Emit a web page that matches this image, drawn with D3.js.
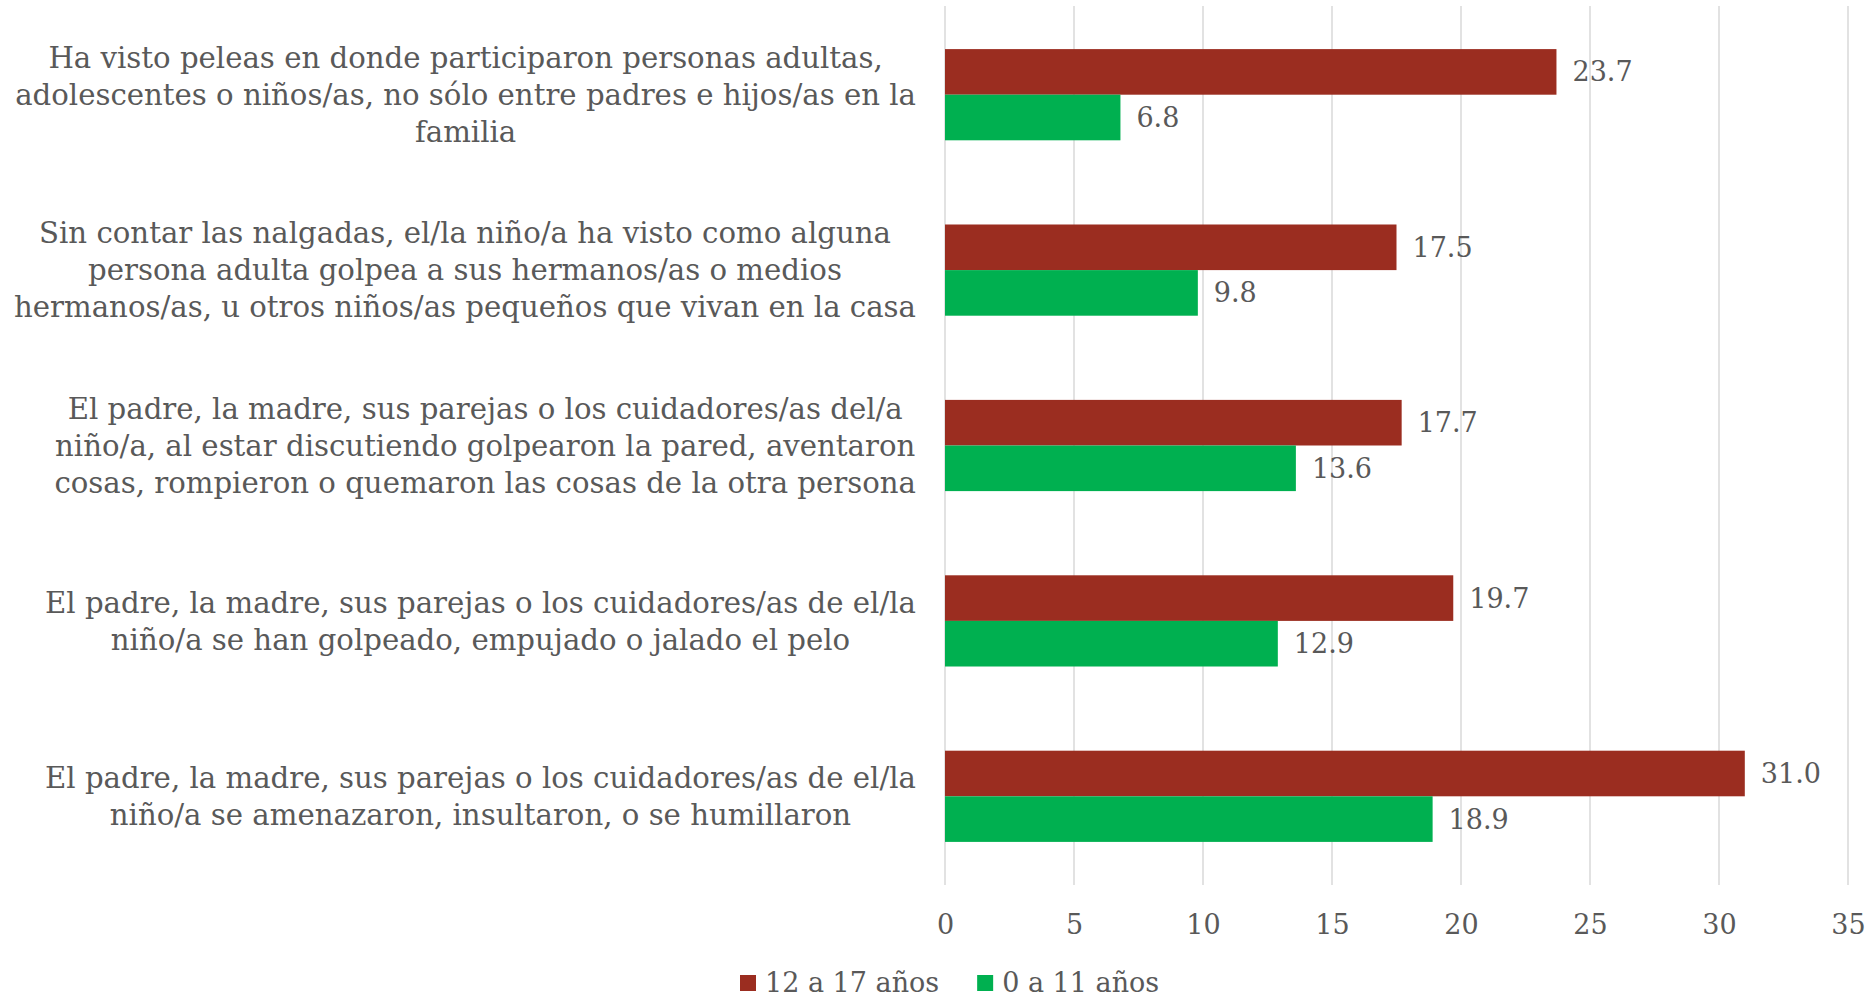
<!DOCTYPE html>
<html><head><meta charset="utf-8">
<script src="https://cdn.jsdelivr.net/npm/d3@7"></script>
<style>
body{margin:0;background:#fff;}
text{font-family:"DejaVu Serif",serif;fill:#595959;}
</style></head>
<body><svg id="c" width="1875" height="998"></svg>
<script>
const categories = [
  ["Ha visto peleas en donde participaron personas adultas,","adolescentes o niños/as, no sólo entre padres e hijos/as en la","familia"],
  ["Sin contar las nalgadas, el/la niño/a ha visto como alguna","persona adulta golpea a sus hermanos/as o medios","hermanos/as, u otros niños/as pequeños que vivan en la casa"],
  ["El padre, la madre, sus parejas o los cuidadores/as del/a","niño/a, al estar discutiendo golpearon la pared, aventaron","cosas, rompieron o quemaron las cosas de la otra persona"],
  ["El padre, la madre, sus parejas o los cuidadores/as de el/la","niño/a se han golpeado, empujado o jalado el pelo"],
  ["El padre, la madre, sus parejas o los cuidadores/as de el/la","niño/a se amenazaron, insultaron, o se humillaron"]
];
const seriesNames = ["12 a 17 años","0 a 11 años"];
const values12a17 = [23.7, 17.5, 17.7, 19.7, 31.0];
const values0a11 = [6.8, 9.8, 13.6, 12.9, 18.9];
const tickValues = [0,5,10,15,20,25,30,35];
const colors = ["#9B2D20","#00B050"];

const svg = d3.select("#c");
const x = d3.scaleLinear().domain([0,35]).range([945,1848]);
const y = d3.scaleBand().domain(d3.range(categories.length)).range([7,884]).paddingInner(0.48).paddingOuter(0.24);
const ys = d3.scaleBand().domain([0,1]).range([0,y.bandwidth()]);

// gridlines
svg.append("g").selectAll("line").data(tickValues).join("line")
  .attr("x1",d=>x(d)).attr("x2",d=>x(d)).attr("y1",6).attr("y2",885)
  .attr("stroke","#D9D9D9").attr("stroke-width",1.5);

// axis
const ax = svg.append("g").attr("transform","translate(0,925)")
  .call(d3.axisBottom(x).tickValues(tickValues).tickSize(0).tickPadding(0).tickFormat(d3.format("d")));
ax.select(".domain").remove();
ax.selectAll("text").style("font-size","27px").attr("dy","0.35em").attr("fill","#595959");

const series = [values12a17, values0a11];
series.forEach((vals,si)=>{
  const g = svg.append("g");
  g.selectAll("rect").data(vals).join("rect")
    .attr("x",x(0)).attr("y",(d,i)=>y(i)+ys(si))
    .attr("width",d=>x(d)-x(0)).attr("height",ys.bandwidth())
    .attr("fill",colors[si]);
  g.selectAll("text").data(vals).join("text")
    .attr("x",d=>x(d)+16).attr("y",(d,i)=>y(i)+ys(si)+ys.bandwidth()/2)
    .attr("dy","0.35em").style("font-size","27px").text(d=>d.toFixed(1));
});

// category labels
const lh = 37;
categories.forEach((lines,i)=>{
  const g = svg.append("g");
  const cy = y(i)+y.bandwidth()/2;
  const ts = g.selectAll("text").data(lines).join("text")
    .style("font-size","29.2px").attr("text-anchor","middle")
    .attr("y",(d,j)=>cy+(j-(lines.length-1)/2)*lh).attr("dy","0.35em").text(d=>d);
  let maxW = 0; ts.each(function(){maxW=Math.max(maxW,this.getComputedTextLength());});
  ts.attr("x",916-maxW/2);
});

// legend
const lg = svg.append("g");
const legendY = 983;
let lx = 740;
seriesNames.forEach((n,i)=>{
  lg.append("rect").attr("x",lx).attr("y",legendY-8).attr("width",16).attr("height",16).attr("fill",colors[i]);
  const t = lg.append("text").attr("x",lx+25).attr("y",legendY).attr("dy","0.35em").style("font-size","27px").text(n);
  lx += 25 + t.node().getComputedTextLength() + 38;
});
</script></body></html>
